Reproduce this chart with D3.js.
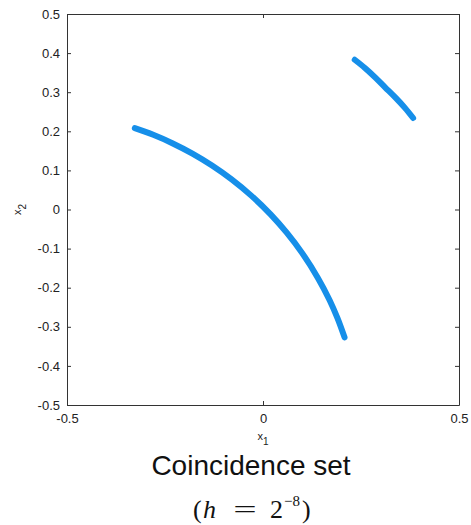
<!DOCTYPE html>
<html>
<head>
<meta charset="utf-8">
<title>Coincidence set</title>
<script src="https://cdn.jsdelivr.net/npm/d3@7"></script>
<style>
  body { margin: 0; background: #fff; }
  .tick text { font-family: "Liberation Sans", Arial, sans-serif; font-size: 13px; fill: #222; }
</style>
</head>
<body>
<div id="chart"></div>
<script>
// axis ticks
const xTicks = [-0.5, 0, 0.5];
const yTicks = [-0.5, -0.4, -0.3, -0.2, -0.1, 0, 0.1, 0.2, 0.3, 0.4, 0.5];

// coincidence set (two arcs)
const arcX1 = [-0.327, -0.28, -0.23, -0.18, -0.13, -0.08, -0.03, 0.02, 0.06, 0.10, 0.14, 0.17, 0.19, 0.208];
const arcY1 = [0.208, 0.191, 0.169, 0.143, 0.1125, 0.077, 0.0355, -0.013, -0.0586, -0.1116, -0.175, -0.232, -0.278, -0.327];
const arcX2 = [0.234, 0.26, 0.286, 0.312, 0.338, 0.362, 0.383];
const arcY2 = [0.383, 0.362, 0.338, 0.312, 0.286, 0.26, 0.234];

const W = 471, H = 525;
const margin = {left: 67, right: 12, top: 14, bottom: 120};

const svg = d3.select("#chart").append("svg")
  .attr("width", W).attr("height", H);

const x = d3.scaleLinear().domain([-0.5, 0.5]).range([margin.left, W - margin.right]);
const y = d3.scaleLinear().domain([-0.5, 0.5]).range([H - margin.bottom, margin.top]);

//
// axes (box with inward ticks)
//
const fmt = d => String(d);

svg.append("g")
  .attr("transform", `translate(0,${y(-0.5)})`)
  .call(d3.axisBottom(x).tickValues(xTicks).tickFormat(fmt).tickSizeInner(-4).tickSizeOuter(0).tickPadding(9));

svg.append("g")
  .attr("transform", `translate(${x(-0.5)},0)`)
  .call(d3.axisLeft(y).tickValues(yTicks).tickFormat(fmt).tickSizeInner(-4).tickSizeOuter(0).tickPadding(7));

svg.append("g")
  .attr("transform", `translate(0,${y(0.5)})`)
  .call(d3.axisTop(x).tickValues(xTicks).tickFormat("").tickSizeInner(-4).tickSizeOuter(0));

svg.append("g")
  .attr("transform", `translate(${x(0.5)},0)`)
  .call(d3.axisRight(y).tickValues(yTicks).tickFormat("").tickSizeInner(-4).tickSizeOuter(0));

svg.selectAll(".domain, .tick line").attr("stroke", "#333");

//
// arcs
//
const line = d3.line()
  .x(d => x(d[0]))
  .y(d => y(d[1]))
  .curve(d3.curveCatmullRom);

[[arcX1, arcY1], [arcX2, arcY2]].forEach(([xs, ys]) => {
  svg.append("path")
    .datum(xs.map((v, i) => [v, ys[i]]))
    .attr("d", line)
    .attr("fill", "none")
    .attr("stroke", "#168fe9")
    .attr("stroke-width", 6)
    .attr("stroke-linecap", "round")
    .attr("stroke-linejoin", "round");
});

//
// labels
//
const lab = svg.append("text")
  .attr("x", x(0)).attr("y", 440)
  .attr("text-anchor", "middle")
  .style("font-family", "Liberation Sans, Arial, sans-serif")
  .style("font-size", "11px").style("fill", "#222");
lab.append("tspan").text("x");
lab.append("tspan").attr("dy", 5).style("font-size", "10px").text("1");

const ylab = svg.append("text")
  .attr("transform", `translate(21,${y(0)}) rotate(-90)`)
  .attr("text-anchor", "middle")
  .style("font-family", "Liberation Sans, Arial, sans-serif")
  .style("font-size", "11px").style("fill", "#222");
ylab.append("tspan").text("x");
ylab.append("tspan").attr("dy", 5).style("font-size", "10px").text("2");

svg.append("text")
  .attr("x", 251).attr("y", 475)
  .attr("text-anchor", "middle")
  .style("font-family", "Liberation Sans, Arial, sans-serif")
  .style("font-size", "28px").style("fill", "#111")
  .text("Coincidence set");

// (h = 2^-8), pieces placed one by one to get the LaTeX spacing
const f = svg.append("g")
  .style("font-family", "Liberation Serif, Times New Roman, serif")
  .style("font-size", "26px").style("fill", "#111");
f.append("text").attr("x", 193).attr("y", 518).text("(");
f.append("text").attr("x", 203).attr("y", 518).style("font-style", "italic").text("h");
f.append("text").attr("transform", "translate(245,518) scale(1.6,1)")
  .attr("text-anchor", "middle").text("=");
f.append("text").attr("x", 270).attr("y", 518).text("2");
f.append("text").attr("x", 284).attr("y", 506).style("font-size", "15px").text("\u22128");
f.append("text").attr("x", 302).attr("y", 518).text(")");
</script>
</body>
</html>
